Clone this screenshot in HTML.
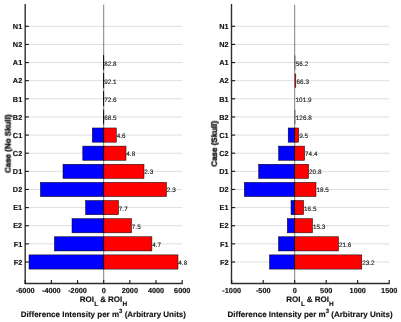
<!DOCTYPE html>
<html><head><meta charset="utf-8"><title>chart</title>
<style>
html,body{margin:0;padding:0;background:#fff;}
body{width:401px;height:322px;overflow:hidden;}
svg{display:block;}

text{font-family:"Liberation Sans",sans-serif;fill:#111;text-rendering:geometricPrecision;}
.tk{font-size:7.3px;font-weight:bold;filter:blur(0.25px);stroke:#111;stroke-width:0.15px;}
.vl{font-size:6.35px;filter:blur(0.25px);fill:#111;stroke:#111;stroke-width:0.1px;}
.sb{font-size:6.5px;}
.sp{font-size:6.0px;}
.al{font-size:8.0px;font-weight:bold;filter:blur(0.25px);stroke:#111;stroke-width:0.15px;}
.yl{stroke-width:0.42px;}
</style></head><body>
<svg width="401" height="322" viewBox="0 0 401 322">
<rect width="401" height="322" fill="#fff"/>
<line x1="25.2" y1="26.30" x2="182.2" y2="26.30" stroke="#d4d4d4" stroke-width="0.8"/>
<line x1="25.2" y1="44.43" x2="182.2" y2="44.43" stroke="#d4d4d4" stroke-width="0.8"/>
<line x1="25.2" y1="62.56" x2="182.2" y2="62.56" stroke="#d4d4d4" stroke-width="0.8"/>
<line x1="25.2" y1="80.69" x2="182.2" y2="80.69" stroke="#d4d4d4" stroke-width="0.8"/>
<line x1="25.2" y1="98.82" x2="182.2" y2="98.82" stroke="#d4d4d4" stroke-width="0.8"/>
<line x1="25.2" y1="116.95" x2="182.2" y2="116.95" stroke="#d4d4d4" stroke-width="0.8"/>
<line x1="25.2" y1="135.08" x2="182.2" y2="135.08" stroke="#d4d4d4" stroke-width="0.8"/>
<line x1="25.2" y1="153.21" x2="182.2" y2="153.21" stroke="#d4d4d4" stroke-width="0.8"/>
<line x1="25.2" y1="171.34" x2="182.2" y2="171.34" stroke="#d4d4d4" stroke-width="0.8"/>
<line x1="25.2" y1="189.47" x2="182.2" y2="189.47" stroke="#d4d4d4" stroke-width="0.8"/>
<line x1="25.2" y1="207.60" x2="182.2" y2="207.60" stroke="#d4d4d4" stroke-width="0.8"/>
<line x1="25.2" y1="225.73" x2="182.2" y2="225.73" stroke="#d4d4d4" stroke-width="0.8"/>
<line x1="25.2" y1="243.86" x2="182.2" y2="243.86" stroke="#d4d4d4" stroke-width="0.8"/>
<line x1="25.2" y1="261.99" x2="182.2" y2="261.99" stroke="#d4d4d4" stroke-width="0.8"/>
<rect x="103.62" y="55.46" width="0.08" height="14.2" fill="#0000ff" stroke="#000" stroke-width="0.5"/>
<rect x="103.70" y="55.46" width="0.15" height="14.2" fill="#ff0000" stroke="#000" stroke-width="0.5"/>
<rect x="103.62" y="73.59" width="0.08" height="14.2" fill="#0000ff" stroke="#000" stroke-width="0.5"/>
<rect x="103.70" y="73.59" width="0.15" height="14.2" fill="#ff0000" stroke="#000" stroke-width="0.5"/>
<rect x="103.62" y="91.72" width="0.08" height="14.2" fill="#0000ff" stroke="#000" stroke-width="0.5"/>
<rect x="103.70" y="91.72" width="0.15" height="14.2" fill="#ff0000" stroke="#000" stroke-width="0.5"/>
<rect x="103.62" y="109.85" width="0.08" height="14.2" fill="#0000ff" stroke="#000" stroke-width="0.5"/>
<rect x="103.70" y="109.85" width="0.15" height="14.2" fill="#ff0000" stroke="#000" stroke-width="0.5"/>
<rect x="92.30" y="127.98" width="11.40" height="14.2" fill="#0000ff" stroke="#000" stroke-width="0.5"/>
<rect x="103.70" y="127.98" width="12.60" height="14.2" fill="#ff0000" stroke="#000" stroke-width="0.5"/>
<rect x="82.80" y="146.11" width="20.90" height="14.2" fill="#0000ff" stroke="#000" stroke-width="0.5"/>
<rect x="103.70" y="146.11" width="22.30" height="14.2" fill="#ff0000" stroke="#000" stroke-width="0.5"/>
<rect x="63.00" y="164.24" width="40.70" height="14.2" fill="#0000ff" stroke="#000" stroke-width="0.5"/>
<rect x="103.70" y="164.24" width="40.30" height="14.2" fill="#ff0000" stroke="#000" stroke-width="0.5"/>
<rect x="40.40" y="182.37" width="63.30" height="14.2" fill="#0000ff" stroke="#000" stroke-width="0.5"/>
<rect x="103.70" y="182.37" width="62.80" height="14.2" fill="#ff0000" stroke="#000" stroke-width="0.5"/>
<rect x="85.60" y="200.50" width="18.10" height="14.2" fill="#0000ff" stroke="#000" stroke-width="0.5"/>
<rect x="103.70" y="200.50" width="14.80" height="14.2" fill="#ff0000" stroke="#000" stroke-width="0.5"/>
<rect x="72.00" y="218.63" width="31.70" height="14.2" fill="#0000ff" stroke="#000" stroke-width="0.5"/>
<rect x="103.70" y="218.63" width="27.80" height="14.2" fill="#ff0000" stroke="#000" stroke-width="0.5"/>
<rect x="54.40" y="236.76" width="49.30" height="14.2" fill="#0000ff" stroke="#000" stroke-width="0.5"/>
<rect x="103.70" y="236.76" width="48.20" height="14.2" fill="#ff0000" stroke="#000" stroke-width="0.5"/>
<rect x="29.00" y="254.89" width="74.70" height="14.2" fill="#0000ff" stroke="#000" stroke-width="0.5"/>
<rect x="103.70" y="254.89" width="74.30" height="14.2" fill="#ff0000" stroke="#000" stroke-width="0.5"/>
<line x1="103.7" y1="4.7" x2="103.7" y2="283.5" stroke="#000" stroke-width="0.5"/>
<line x1="25.2" y1="4.0" x2="25.2" y2="284.0" stroke="#2e2e2e" stroke-width="1.4"/>
<line x1="24.7" y1="283.5" x2="182.7" y2="283.5" stroke="#2e2e2e" stroke-width="1.4"/>
<line x1="25.2" y1="26.30" x2="28.8" y2="26.30" stroke="#141414" stroke-width="1.1"/>
<text x="22.2" y="29.00" text-anchor="end" class="tk">N1</text>
<line x1="25.2" y1="44.43" x2="28.8" y2="44.43" stroke="#141414" stroke-width="1.1"/>
<text x="22.2" y="47.13" text-anchor="end" class="tk">N2</text>
<line x1="25.2" y1="62.56" x2="28.8" y2="62.56" stroke="#141414" stroke-width="1.1"/>
<text x="22.2" y="65.26" text-anchor="end" class="tk">A1</text>
<line x1="25.2" y1="80.69" x2="28.8" y2="80.69" stroke="#141414" stroke-width="1.1"/>
<text x="22.2" y="83.39" text-anchor="end" class="tk">A2</text>
<line x1="25.2" y1="98.82" x2="28.8" y2="98.82" stroke="#141414" stroke-width="1.1"/>
<text x="22.2" y="101.52" text-anchor="end" class="tk">B1</text>
<line x1="25.2" y1="116.95" x2="28.8" y2="116.95" stroke="#141414" stroke-width="1.1"/>
<text x="22.2" y="119.65" text-anchor="end" class="tk">B2</text>
<line x1="25.2" y1="135.08" x2="28.8" y2="135.08" stroke="#141414" stroke-width="1.1"/>
<text x="22.2" y="137.78" text-anchor="end" class="tk">C1</text>
<line x1="25.2" y1="153.21" x2="28.8" y2="153.21" stroke="#141414" stroke-width="1.1"/>
<text x="22.2" y="155.91" text-anchor="end" class="tk">C2</text>
<line x1="25.2" y1="171.34" x2="28.8" y2="171.34" stroke="#141414" stroke-width="1.1"/>
<text x="22.2" y="174.04" text-anchor="end" class="tk">D1</text>
<line x1="25.2" y1="189.47" x2="28.8" y2="189.47" stroke="#141414" stroke-width="1.1"/>
<text x="22.2" y="192.17" text-anchor="end" class="tk">D2</text>
<line x1="25.2" y1="207.60" x2="28.8" y2="207.60" stroke="#141414" stroke-width="1.1"/>
<text x="22.2" y="210.30" text-anchor="end" class="tk">E1</text>
<line x1="25.2" y1="225.73" x2="28.8" y2="225.73" stroke="#141414" stroke-width="1.1"/>
<text x="22.2" y="228.43" text-anchor="end" class="tk">E2</text>
<line x1="25.2" y1="243.86" x2="28.8" y2="243.86" stroke="#141414" stroke-width="1.1"/>
<text x="22.2" y="246.56" text-anchor="end" class="tk">F1</text>
<line x1="25.2" y1="261.99" x2="28.8" y2="261.99" stroke="#141414" stroke-width="1.1"/>
<text x="22.2" y="264.69" text-anchor="end" class="tk">F2</text>
<line x1="25.2" y1="283.5" x2="25.2" y2="280.1" stroke="#141414" stroke-width="1.1"/>
<text x="25.2" y="293.3" text-anchor="middle" class="tk">-6000</text>
<line x1="51.36666666666667" y1="283.5" x2="51.36666666666667" y2="280.1" stroke="#141414" stroke-width="1.1"/>
<text x="51.36666666666667" y="293.3" text-anchor="middle" class="tk">-4000</text>
<line x1="77.53333333333333" y1="283.5" x2="77.53333333333333" y2="280.1" stroke="#141414" stroke-width="1.1"/>
<text x="77.53333333333333" y="293.3" text-anchor="middle" class="tk">-2000</text>
<line x1="103.7" y1="283.5" x2="103.7" y2="280.1" stroke="#141414" stroke-width="1.1"/>
<text x="103.7" y="293.3" text-anchor="middle" class="tk">0</text>
<line x1="129.86666666666667" y1="283.5" x2="129.86666666666667" y2="280.1" stroke="#141414" stroke-width="1.1"/>
<text x="129.86666666666667" y="293.3" text-anchor="middle" class="tk">2000</text>
<line x1="156.03333333333333" y1="283.5" x2="156.03333333333333" y2="280.1" stroke="#141414" stroke-width="1.1"/>
<text x="156.03333333333333" y="293.3" text-anchor="middle" class="tk">4000</text>
<line x1="182.2" y1="283.5" x2="182.2" y2="280.1" stroke="#141414" stroke-width="1.1"/>
<text x="182.2" y="293.3" text-anchor="middle" class="tk">6000</text>
<text x="104.20" y="65.51" class="vl">82.8</text>
<text x="104.20" y="83.64" class="vl">92.1</text>
<text x="104.20" y="101.77" class="vl">72.6</text>
<text x="104.20" y="119.90" class="vl">68.5</text>
<text x="116.65" y="138.03" class="vl">4.6</text>
<text x="126.35" y="156.16" class="vl">4.8</text>
<text x="144.35" y="174.29" class="vl">2.3</text>
<text x="166.85" y="192.42" class="vl">2.3</text>
<text x="118.85" y="210.55" class="vl">7.7</text>
<text x="131.85" y="228.68" class="vl">7.5</text>
<text x="152.25" y="246.81" class="vl">4.7</text>
<text x="178.35" y="264.94" class="vl">4.8</text>
<text transform="translate(10.6,143.75) rotate(-90)" text-anchor="middle" class="al yl">Case (No Skull)</text>
<text y="302.0" class="al"><tspan x="79.70">ROI</tspan><tspan x="94.30" y="306.1" class="sb">L</tspan><tspan x="100.20" y="302.0">&amp;</tspan><tspan x="108.10" y="302.0">ROI</tspan><tspan x="122.40" y="306.1" class="sb">H</tspan></text>
<text x="103.39999999999999" y="316.7" text-anchor="middle" class="al">Difference Intensity per m<tspan dy="-3.5" class="sp">3</tspan><tspan dy="3.5"> (Arbitrary Units)</tspan></text>
<line x1="231.5" y1="26.30" x2="389.2" y2="26.30" stroke="#d4d4d4" stroke-width="0.8"/>
<line x1="231.5" y1="44.43" x2="389.2" y2="44.43" stroke="#d4d4d4" stroke-width="0.8"/>
<line x1="231.5" y1="62.56" x2="389.2" y2="62.56" stroke="#d4d4d4" stroke-width="0.8"/>
<line x1="231.5" y1="80.69" x2="389.2" y2="80.69" stroke="#d4d4d4" stroke-width="0.8"/>
<line x1="231.5" y1="98.82" x2="389.2" y2="98.82" stroke="#d4d4d4" stroke-width="0.8"/>
<line x1="231.5" y1="116.95" x2="389.2" y2="116.95" stroke="#d4d4d4" stroke-width="0.8"/>
<line x1="231.5" y1="135.08" x2="389.2" y2="135.08" stroke="#d4d4d4" stroke-width="0.8"/>
<line x1="231.5" y1="153.21" x2="389.2" y2="153.21" stroke="#d4d4d4" stroke-width="0.8"/>
<line x1="231.5" y1="171.34" x2="389.2" y2="171.34" stroke="#d4d4d4" stroke-width="0.8"/>
<line x1="231.5" y1="189.47" x2="389.2" y2="189.47" stroke="#d4d4d4" stroke-width="0.8"/>
<line x1="231.5" y1="207.60" x2="389.2" y2="207.60" stroke="#d4d4d4" stroke-width="0.8"/>
<line x1="231.5" y1="225.73" x2="389.2" y2="225.73" stroke="#d4d4d4" stroke-width="0.8"/>
<line x1="231.5" y1="243.86" x2="389.2" y2="243.86" stroke="#d4d4d4" stroke-width="0.8"/>
<line x1="231.5" y1="261.99" x2="389.2" y2="261.99" stroke="#d4d4d4" stroke-width="0.8"/>
<rect x="294.70" y="55.46" width="0.65" height="14.2" fill="#505050"/>
<rect x="294.70" y="73.59" width="1.40" height="14.2" fill="#a31a1a"/>
<rect x="294.70" y="91.72" width="0.40" height="14.2" fill="none"/>
<rect x="294.70" y="109.85" width="0.65" height="14.2" fill="#505050"/>
<rect x="288.20" y="127.98" width="6.50" height="14.2" fill="#0000ff" stroke="#000" stroke-width="0.5"/>
<rect x="294.70" y="127.98" width="4.00" height="14.2" fill="#ff0000" stroke="#000" stroke-width="0.5"/>
<rect x="278.60" y="146.11" width="16.10" height="14.2" fill="#0000ff" stroke="#000" stroke-width="0.5"/>
<rect x="294.70" y="146.11" width="9.90" height="14.2" fill="#ff0000" stroke="#000" stroke-width="0.5"/>
<rect x="258.70" y="164.24" width="36.00" height="14.2" fill="#0000ff" stroke="#000" stroke-width="0.5"/>
<rect x="294.70" y="164.24" width="13.90" height="14.2" fill="#ff0000" stroke="#000" stroke-width="0.5"/>
<rect x="244.30" y="182.37" width="50.40" height="14.2" fill="#0000ff" stroke="#000" stroke-width="0.5"/>
<rect x="294.70" y="182.37" width="21.30" height="14.2" fill="#ff0000" stroke="#000" stroke-width="0.5"/>
<rect x="291.00" y="200.50" width="3.70" height="14.2" fill="#0000ff" stroke="#000" stroke-width="0.5"/>
<rect x="294.70" y="200.50" width="8.90" height="14.2" fill="#ff0000" stroke="#000" stroke-width="0.5"/>
<rect x="287.30" y="218.63" width="7.40" height="14.2" fill="#0000ff" stroke="#000" stroke-width="0.5"/>
<rect x="294.70" y="218.63" width="17.80" height="14.2" fill="#ff0000" stroke="#000" stroke-width="0.5"/>
<rect x="278.50" y="236.76" width="16.20" height="14.2" fill="#0000ff" stroke="#000" stroke-width="0.5"/>
<rect x="294.70" y="236.76" width="43.80" height="14.2" fill="#ff0000" stroke="#000" stroke-width="0.5"/>
<rect x="269.50" y="254.89" width="25.20" height="14.2" fill="#0000ff" stroke="#000" stroke-width="0.5"/>
<rect x="294.70" y="254.89" width="67.10" height="14.2" fill="#ff0000" stroke="#000" stroke-width="0.5"/>
<line x1="294.7" y1="4.7" x2="294.7" y2="283.5" stroke="#000" stroke-width="0.5"/>
<line x1="231.5" y1="4.0" x2="231.5" y2="284.0" stroke="#2e2e2e" stroke-width="1.4"/>
<line x1="231.0" y1="283.5" x2="389.7" y2="283.5" stroke="#2e2e2e" stroke-width="1.4"/>
<line x1="231.5" y1="26.30" x2="235.1" y2="26.30" stroke="#141414" stroke-width="1.1"/>
<text x="228.5" y="29.00" text-anchor="end" class="tk">N1</text>
<line x1="231.5" y1="44.43" x2="235.1" y2="44.43" stroke="#141414" stroke-width="1.1"/>
<text x="228.5" y="47.13" text-anchor="end" class="tk">N2</text>
<line x1="231.5" y1="62.56" x2="235.1" y2="62.56" stroke="#141414" stroke-width="1.1"/>
<text x="228.5" y="65.26" text-anchor="end" class="tk">A1</text>
<line x1="231.5" y1="80.69" x2="235.1" y2="80.69" stroke="#141414" stroke-width="1.1"/>
<text x="228.5" y="83.39" text-anchor="end" class="tk">A2</text>
<line x1="231.5" y1="98.82" x2="235.1" y2="98.82" stroke="#141414" stroke-width="1.1"/>
<text x="228.5" y="101.52" text-anchor="end" class="tk">B1</text>
<line x1="231.5" y1="116.95" x2="235.1" y2="116.95" stroke="#141414" stroke-width="1.1"/>
<text x="228.5" y="119.65" text-anchor="end" class="tk">B2</text>
<line x1="231.5" y1="135.08" x2="235.1" y2="135.08" stroke="#141414" stroke-width="1.1"/>
<text x="228.5" y="137.78" text-anchor="end" class="tk">C1</text>
<line x1="231.5" y1="153.21" x2="235.1" y2="153.21" stroke="#141414" stroke-width="1.1"/>
<text x="228.5" y="155.91" text-anchor="end" class="tk">C2</text>
<line x1="231.5" y1="171.34" x2="235.1" y2="171.34" stroke="#141414" stroke-width="1.1"/>
<text x="228.5" y="174.04" text-anchor="end" class="tk">D1</text>
<line x1="231.5" y1="189.47" x2="235.1" y2="189.47" stroke="#141414" stroke-width="1.1"/>
<text x="228.5" y="192.17" text-anchor="end" class="tk">D2</text>
<line x1="231.5" y1="207.60" x2="235.1" y2="207.60" stroke="#141414" stroke-width="1.1"/>
<text x="228.5" y="210.30" text-anchor="end" class="tk">E1</text>
<line x1="231.5" y1="225.73" x2="235.1" y2="225.73" stroke="#141414" stroke-width="1.1"/>
<text x="228.5" y="228.43" text-anchor="end" class="tk">E2</text>
<line x1="231.5" y1="243.86" x2="235.1" y2="243.86" stroke="#141414" stroke-width="1.1"/>
<text x="228.5" y="246.56" text-anchor="end" class="tk">F1</text>
<line x1="231.5" y1="261.99" x2="235.1" y2="261.99" stroke="#141414" stroke-width="1.1"/>
<text x="228.5" y="264.69" text-anchor="end" class="tk">F2</text>
<line x1="231.7" y1="283.5" x2="231.7" y2="280.1" stroke="#141414" stroke-width="1.1"/>
<text x="231.7" y="293.3" text-anchor="middle" class="tk">-1000</text>
<line x1="263.2" y1="283.5" x2="263.2" y2="280.1" stroke="#141414" stroke-width="1.1"/>
<text x="263.2" y="293.3" text-anchor="middle" class="tk">-500</text>
<line x1="294.7" y1="283.5" x2="294.7" y2="280.1" stroke="#141414" stroke-width="1.1"/>
<text x="294.7" y="293.3" text-anchor="middle" class="tk">0</text>
<line x1="326.2" y1="283.5" x2="326.2" y2="280.1" stroke="#141414" stroke-width="1.1"/>
<text x="326.2" y="293.3" text-anchor="middle" class="tk">500</text>
<line x1="357.7" y1="283.5" x2="357.7" y2="280.1" stroke="#141414" stroke-width="1.1"/>
<text x="357.7" y="293.3" text-anchor="middle" class="tk">1000</text>
<line x1="389.2" y1="283.5" x2="389.2" y2="280.1" stroke="#141414" stroke-width="1.1"/>
<text x="389.2" y="293.3" text-anchor="middle" class="tk">1500</text>
<text x="295.85" y="65.51" class="vl">56.2</text>
<text x="296.60" y="83.64" class="vl">66.3</text>
<text x="295.60" y="101.77" class="vl">101.9</text>
<text x="295.85" y="119.90" class="vl">126.8</text>
<text x="299.20" y="138.03" class="vl">9.5</text>
<text x="305.10" y="156.16" class="vl">74.4</text>
<text x="309.10" y="174.29" class="vl">20.8</text>
<text x="316.50" y="192.42" class="vl">18.5</text>
<text x="304.10" y="210.55" class="vl">16.5</text>
<text x="313.00" y="228.68" class="vl">15.3</text>
<text x="339.00" y="246.81" class="vl">21.6</text>
<text x="362.30" y="264.94" class="vl">23.2</text>
<text transform="translate(216.9,143.75) rotate(-90)" text-anchor="middle" class="al yl">Case (Skull)</text>
<text y="302.0" class="al"><tspan x="286.35">ROI</tspan><tspan x="300.95" y="306.1" class="sb">L</tspan><tspan x="306.85" y="302.0">&amp;</tspan><tspan x="314.75" y="302.0">ROI</tspan><tspan x="329.05" y="306.1" class="sb">H</tspan></text>
<text x="310.05" y="316.7" text-anchor="middle" class="al">Difference Intensity per m<tspan dy="-3.5" class="sp">3</tspan><tspan dy="3.5"> (Arbitrary Units)</tspan></text>
</svg>
</body></html>
